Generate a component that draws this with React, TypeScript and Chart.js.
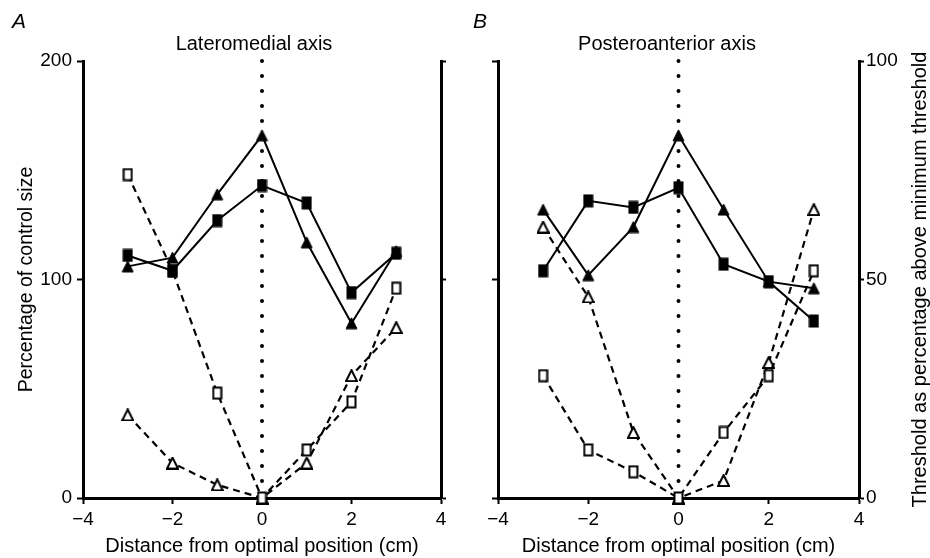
import React, { useEffect, useRef } from "react";
import { Chart, registerables } from "chart.js";

Chart.register(...registerables);

const FONT = '"Liberation Sans", Arial, Helvetica, sans-serif';

// Shared x positions (cm from optimal position)
const distances = [-3, -2, -1, 0, 1, 2, 3];

// Panel A — Lateromedial axis
const lmSizeSquares = [111, 104, 127, 143, 135, 94, 112]; // % of control size (left axis)
const lmSizeTriangles = [106, 110, 139, 166, 117, 80, 113];
const lmThresholdSquares = [74, 52, 24, 0, 11, 22, 48]; // threshold % above minimum (right axis)
const lmThresholdTriangles = [19, 8, 3, 0, 8, 28, 39];

// Panel B — Posteroanterior axis
const paSizeSquares = [104, 136, 133, 142, 107, 99, 81];
const paSizeTriangles = [132, 102, 124, 166, 132, 99, 96];
const paThresholdSquares = [28, 11, 6, 0, 15, 28, 52];
const paThresholdTriangles = [62, 46, 15, 0, 4, 31, 66];

// Optimal position reference line (x = 0)
const optimalLineX = [0, 0];
const optimalLineY = [200, 0];

const xTicks = [-4, -2, 0, 2, 4];
const leftTicks = [0, 100, 200];
const rightTicks = [0, 50, 100];

function makeMarker(kind: string, filled: boolean): HTMLCanvasElement {
  const c = document.createElement("canvas");
  if (kind === "square") {
    c.width = 11;
    c.height = 14;
    const g = c.getContext("2d")!;
    if (filled) {
      g.fillStyle = "#000";
      g.fillRect(0.5, 0.5, 10, 13);
    } else {
      g.fillStyle = "#fff";
      g.fillRect(1, 1, 9, 12);
      g.strokeStyle = "#000";
      g.lineWidth = 2;
      g.strokeRect(1.5, 1.5, 8, 11);
    }
  } else {
    c.width = 13;
    c.height = 13;
    const g = c.getContext("2d")!;
    g.beginPath();
    g.moveTo(6.5, 1);
    g.lineTo(12, 12);
    g.lineTo(1, 12);
    g.closePath();
    if (filled) {
      g.fillStyle = "#000";
      g.fill();
      g.strokeStyle = "#000";
      g.lineWidth = 1;
      g.stroke();
    } else {
      g.fillStyle = "#fff";
      g.fill();
      g.strokeStyle = "#000";
      g.lineWidth = 2;
      g.lineJoin = "miter";
      g.stroke();
    }
  }
  return c;
}

function pts(ys: number[]) {
  return distances.map((x, i) => ({ x, y: ys[i] }));
}

function buildDatasets(
  sizeSq: number[],
  sizeTri: number[],
  thrSq: number[],
  thrTri: number[]
) {
  const fSq = makeMarker("square", true);
  const fTri = makeMarker("triangle", true);
  const oSq = makeMarker("square", false);
  const oTri = makeMarker("triangle", false);
  const common = {
    borderColor: "#000",
    backgroundColor: "#000",
    pointRadius: 6,
    pointHoverRadius: 6,
    clip: false as const,
    tension: 0,
  };
  return [
    { ...common, label: "size squares", data: pts(sizeSq), yAxisID: "y", pointStyle: fSq, borderWidth: 2 },
    { ...common, label: "size triangles", data: pts(sizeTri), yAxisID: "y", pointStyle: fTri, borderWidth: 2 },
    { ...common, label: "threshold squares", data: pts(thrSq), yAxisID: "y2", pointStyle: oSq, borderWidth: 2.2, borderDash: [7, 5] },
    { ...common, label: "threshold triangles", data: pts(thrTri), yAxisID: "y2", pointStyle: oTri, borderWidth: 2.2, borderDash: [7, 5] },
    {
      label: "optimal",
      data: optimalLineX.map((x, i) => ({ x, y: optimalLineY[i] })),
      yAxisID: "y",
      borderColor: "#000",
      borderWidth: 4,
      borderDash: [0, 15],
      borderCapStyle: "round" as const,
      pointRadius: 0,
      clip: false as const,
    },
  ];
}

const axisGrid = (len: number) => ({
  drawOnChartArea: false,
  drawTicks: true,
  tickLength: len,
  tickWidth: 2,
  tickColor: "#000",
  color: "#000",
});
const axisBorder = { display: true, color: "#000", width: 3 };

function fmtX(v: number | string) {
  const n = Number(v);
  return n < 0 ? "\u2212" + Math.abs(n) : String(n);
}

interface PanelProps {
  title: string;
  letter: string;
  letterX: number;
  leftWidth: number;
  rightWidth: number;
  showLeftLabels: boolean;
  showRightLabels: boolean;
  rightTitle?: string;
  rightTitleOffset?: number;
  sizeSq: number[];
  sizeTri: number[];
  thrSq: number[];
  thrTri: number[];
  width: number;
  height: number;
}

function Panel(p: PanelProps) {
  const ref = useRef<HTMLCanvasElement>(null);
  useEffect(() => {
    const textPlugin = {
      id: "panelText",
      afterDraw(chart: any) {
        const ctx = chart.ctx;
        const area = chart.chartArea;
        ctx.save();
        ctx.fillStyle = "#000";
        ctx.font = `italic 21px ${FONT}`;
        ctx.textBaseline = "alphabetic";
        ctx.textAlign = "left";
        ctx.fillText(p.letter, p.letterX, 28);
        if (p.rightTitle) {
          ctx.translate(area.right + (p.rightTitleOffset || 0), (area.top + area.bottom) / 2);
          ctx.rotate(-Math.PI / 2);
          ctx.textAlign = "center";
          ctx.textBaseline = "middle";
          ctx.font = `20px ${FONT}`;
          ctx.fillText(p.rightTitle, 0, 0);
        }
        ctx.restore();
      },
    };
    const chart = new Chart(ref.current!, {
      type: "line",
      data: { datasets: buildDatasets(p.sizeSq, p.sizeTri, p.thrSq, p.thrTri) as any },
      options: {
        responsive: false,
        animation: false,
        events: [],
        layout: { padding: 0 },
        plugins: {
          legend: { display: false },
          tooltip: { enabled: false },
          title: {
            display: true,
            text: p.title,
            color: "#000",
            font: { family: FONT, size: 20, weight: "normal" },
            padding: { top: 32, bottom: 5 },
          },
        },
        scales: {
          x: {
            type: "linear",
            min: -4,
            max: 4,
            afterBuildTicks: (s: any) => {
              s.ticks = xTicks.map((v) => ({ value: v }));
            },
            afterFit: (s: any) => {
              s.height = 60;
            },
            ticks: {
              color: "#000",
              font: { family: FONT, size: 19 },
              padding: 4,
              callback: (v: any) => fmtX(v),
              maxRotation: 0,
            },
            grid: axisGrid(6),
            border: axisBorder,
            title: {
              display: true,
              text: "Distance from optimal position (cm)",
              color: "#000",
              font: { family: FONT, size: 20 },
              padding: { top: 0, bottom: 0 },
            },
          },
          y: {
            type: "linear",
            position: "left",
            min: 0,
            max: 200,
            afterBuildTicks: (s: any) => {
              s.ticks = leftTicks.map((v) => ({ value: v }));
            },
            afterFit: (s: any) => {
              s.width = p.leftWidth;
            },
            ticks: {
              display: p.showLeftLabels,
              color: "#000",
              font: { family: FONT, size: 19 },
              padding: 5,
            },
            grid: axisGrid(6),
            border: axisBorder,
            title: {
              display: p.showLeftLabels,
              text: "Percentage of control size",
              color: "#000",
              font: { family: FONT, size: 19.5 },
              padding: { top: 15, bottom: 0 },
            },
          },
          y2: {
            type: "linear",
            position: "right",
            min: 0,
            max: 100,
            afterBuildTicks: (s: any) => {
              s.ticks = rightTicks.map((v) => ({ value: v }));
            },
            afterFit: (s: any) => {
              s.width = p.rightWidth;
            },
            ticks: {
              display: p.showRightLabels,
              color: "#000",
              font: { family: FONT, size: 19 },
              padding: 2,
            },
            grid: axisGrid(5),
            border: axisBorder,
          },
        },
      } as any,
      plugins: [textPlugin],
    });
    return () => chart.destroy();
  }, []);
  return <canvas ref={ref} width={p.width} height={p.height} style={{ display: "block", width: p.width, height: p.height }} />;
}

export default function App() {
  return (
    <div style={{ position: "absolute", left: 0, top: 0, width: 930, height: 558, background: "#fff", overflow: "hidden" }}>
      <div style={{ position: "absolute", left: 0, top: 0 }}>
        <Panel
          title="Lateromedial axis"
          letter="A"
          letterX={12}
          leftWidth={83}
          rightWidth={67}
          showLeftLabels={true}
          showRightLabels={false}
          sizeSq={lmSizeSquares}
          sizeTri={lmSizeTriangles}
          thrSq={lmThresholdSquares}
          thrTri={lmThresholdTriangles}
          width={508}
          height={558}
        />
      </div>
      <div style={{ position: "absolute", left: 404, top: 0 }}>
        <Panel
          title="Posteroanterior axis"
          letter="B"
          letterX={69}
          leftWidth={94}
          rightWidth={71}
          showLeftLabels={false}
          showRightLabels={true}
          rightTitle="Threshold as percentage above minimum threshold"
          rightTitleOffset={61}
          sizeSq={paSizeSquares}
          sizeTri={paSizeTriangles}
          thrSq={paThresholdSquares}
          thrTri={paThresholdTriangles}
          width={526}
          height={558}
        />
      </div>
    </div>
  );
}
